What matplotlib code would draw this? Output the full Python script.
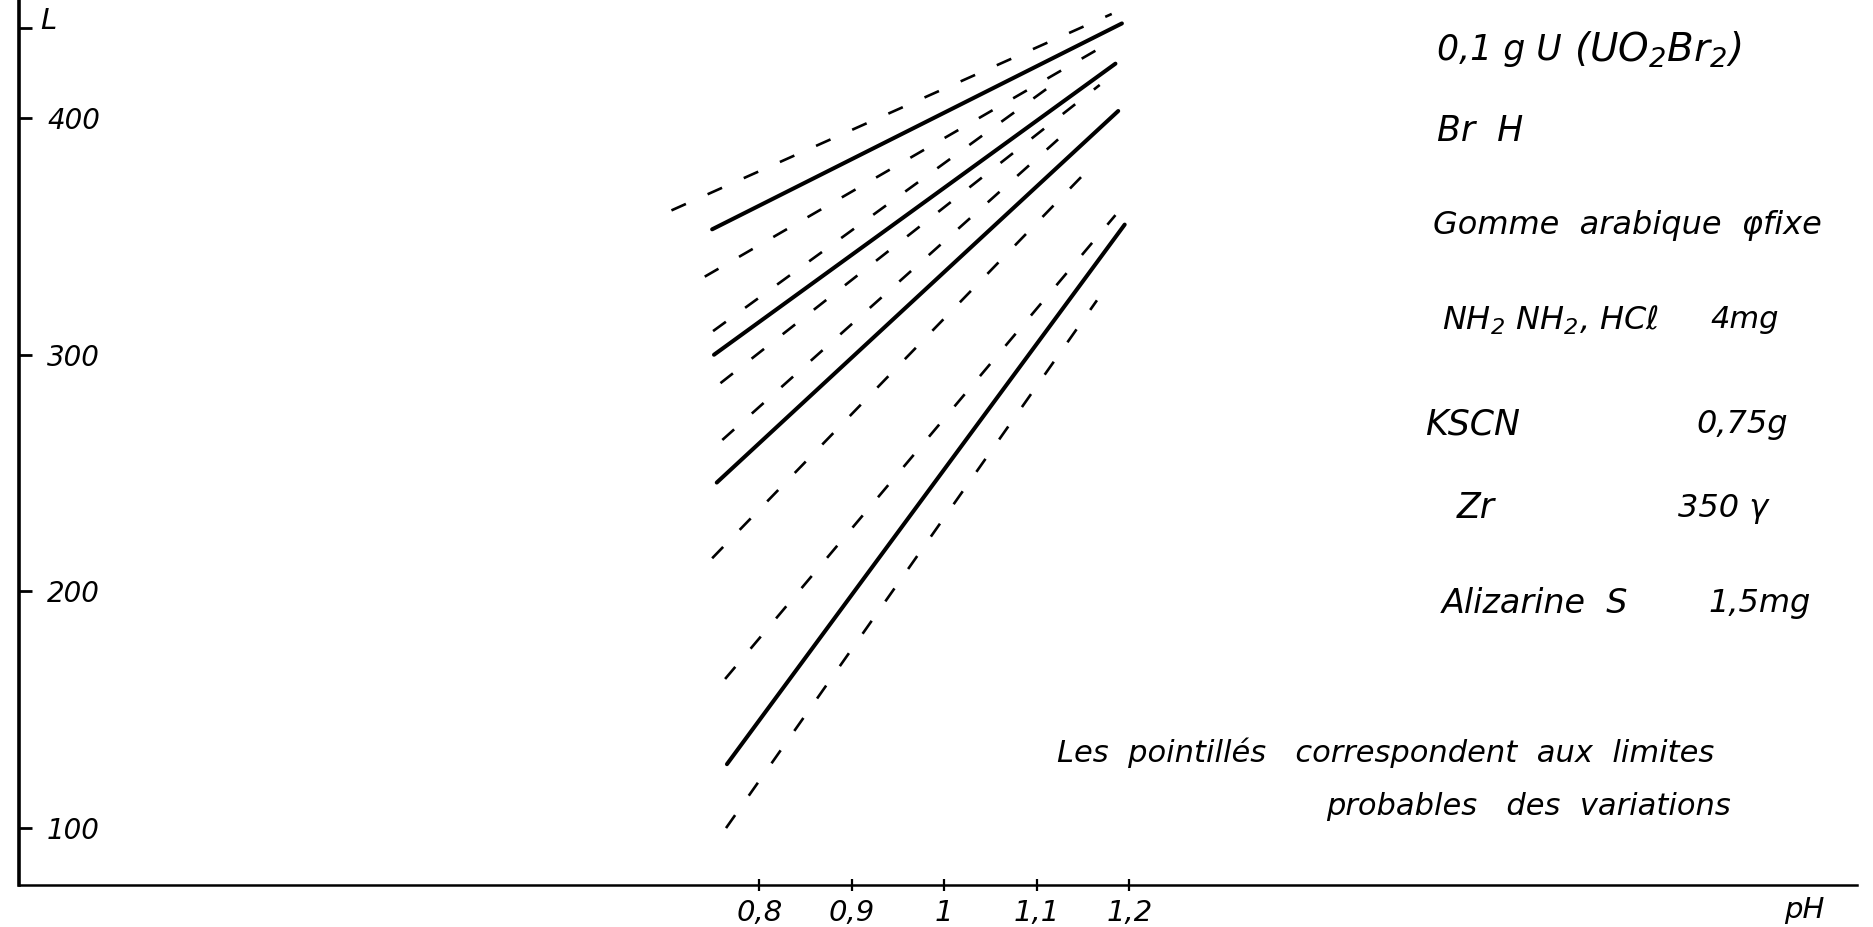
import numpy as np
import matplotlib
matplotlib.use("Agg")
import matplotlib.pyplot as plt

matplotlib.rcParams.update({
    "font.family": "DejaVu Sans", "font.style": "italic",
    "mathtext.fontset": "custom", "mathtext.rm": "DejaVu Sans:italic",
    "mathtext.it": "DejaVu Sans:italic",
    "font.size": 21,
})

# L vs pH -- solid = calibration line, dashed = probable limits
PH_TICKS  = [0.8, 0.9, 1.0, 1.1, 1.2]
PH_LABELS = ["0,8", "0,9", "1", "1,1", "1,2"]
L_TICKS   = [100, 200, 300, 400, 438]
L_LABELS  = ["100", "200", "300", "400", ""]

SOLID_PH = [[0.749, 1.192], [0.751, 1.185], [0.754, 1.188], [0.765, 1.195]]
SOLID_L  = [[353, 440], [300, 423], [246, 403], [127, 355]]
DASH_PH  = [[0.705, 1.181], [0.741, 1.179], [0.750, 1.127], [0.758, 1.168],
            [0.760, 1.123], [0.749, 1.165], [0.763, 1.185], [0.764, 1.165]]
DASH_L   = [[361, 444], [333, 432], [310, 417], [288, 414],
            [264, 391], [214, 382], [163, 359], [100, 323]]

COND_NAMES = ["0,1 g U", "Br  H", "Gomme  arabique  φfixe",
              "NH$_2$ NH$_2$, HCℓ", "KSCN", "Zr", "Alizarine  S"]
COND_QTY   = ["(UO$_2$Br$_2$)", "", "", "4mg", "0,75g", "350 γ", "1,5mg"]
NOTE = ["Les  pointillés   correspondent  aux  limites",
        "probables   des  variations"]

fig = plt.figure(figsize=(18.73, 9.27), dpi=100)
ax = fig.add_axes([0, 0, 1, 1])
ax.set_xlim(-0.0209, 2.004)
ax.set_ylim(58.2, 449.9)

for x, y in zip(SOLID_PH, SOLID_L):
    ax.plot(x, y, color="black", lw=2.9, solid_capstyle="round")
for x, y in zip(DASH_PH, DASH_L):
    ax.plot(x, y, color="black", lw=1.9, ls=(0, (6, 9)))

# hand-drawn style axes through the origin
for s in ("top", "right"):
    ax.spines[s].set_visible(False)
ax.spines["left"].set_position(("data", 0.0))
ax.spines["bottom"].set_position(("data", 76.0))
ax.spines["left"].set_bounds(76.0, 449.9)
ax.spines["bottom"].set_bounds(0.0, 1.987)
ax.spines["left"].set_linewidth(2.6)
ax.spines["bottom"].set_linewidth(1.8)

ax.set_yticks(L_TICKS)
ax.set_yticklabels(L_LABELS, fontsize=20)
ax.tick_params(axis="y", direction="in", length=9, width=2, pad=-20)
for lab in ax.get_yticklabels():
    lab.set_horizontalalignment("left")
ax.set_xticks(PH_TICKS)
ax.set_xticklabels(PH_LABELS)
ax.tick_params(axis="x", direction="inout", length=9, width=1.6, pad=6)

ax.set_xlabel("pH")
ax.xaxis.set_label_coords(1804 / 1873, 1 - 910 / 927)
ax.xaxis.label.set_verticalalignment("center")
ax.set_ylabel("L", rotation=0)
ax.yaxis.set_label_coords(48 / 1873, 1 - 21 / 927)
ax.yaxis.label.set_verticalalignment("center")

name_pos  = [(1.533, 428.7), (1.533, 394.5), (1.528, 354.8), (1.538, 314.7),
             (1.520, 270.7), (1.554, 235.2), (1.538, 195.1)]
name_size = [25, 25, 23, 23, 25, 25, 24]
qty_x     = [1.681, 0, 0, 1.828, 1.813, 1.793, 1.826]
qty_size  = [28, 0, 0, 22, 23, 23, 23]
for i, (name, qty) in enumerate(zip(COND_NAMES, COND_QTY)):
    ax.text(*name_pos[i], name, ha="left", va="center", fontsize=name_size[i])
    if qty:
        ax.text(qty_x[i], name_pos[i][1], qty, ha="left", va="center",
                fontsize=qty_size[i])

ax.text(1.122, 131.7, NOTE[0], ha="left", va="center", fontsize=22)
ax.text(1.413, 109.3, NOTE[1], ha="left", va="center", fontsize=22)

fig.savefig("out.png", dpi=100)
plt.close(fig)
